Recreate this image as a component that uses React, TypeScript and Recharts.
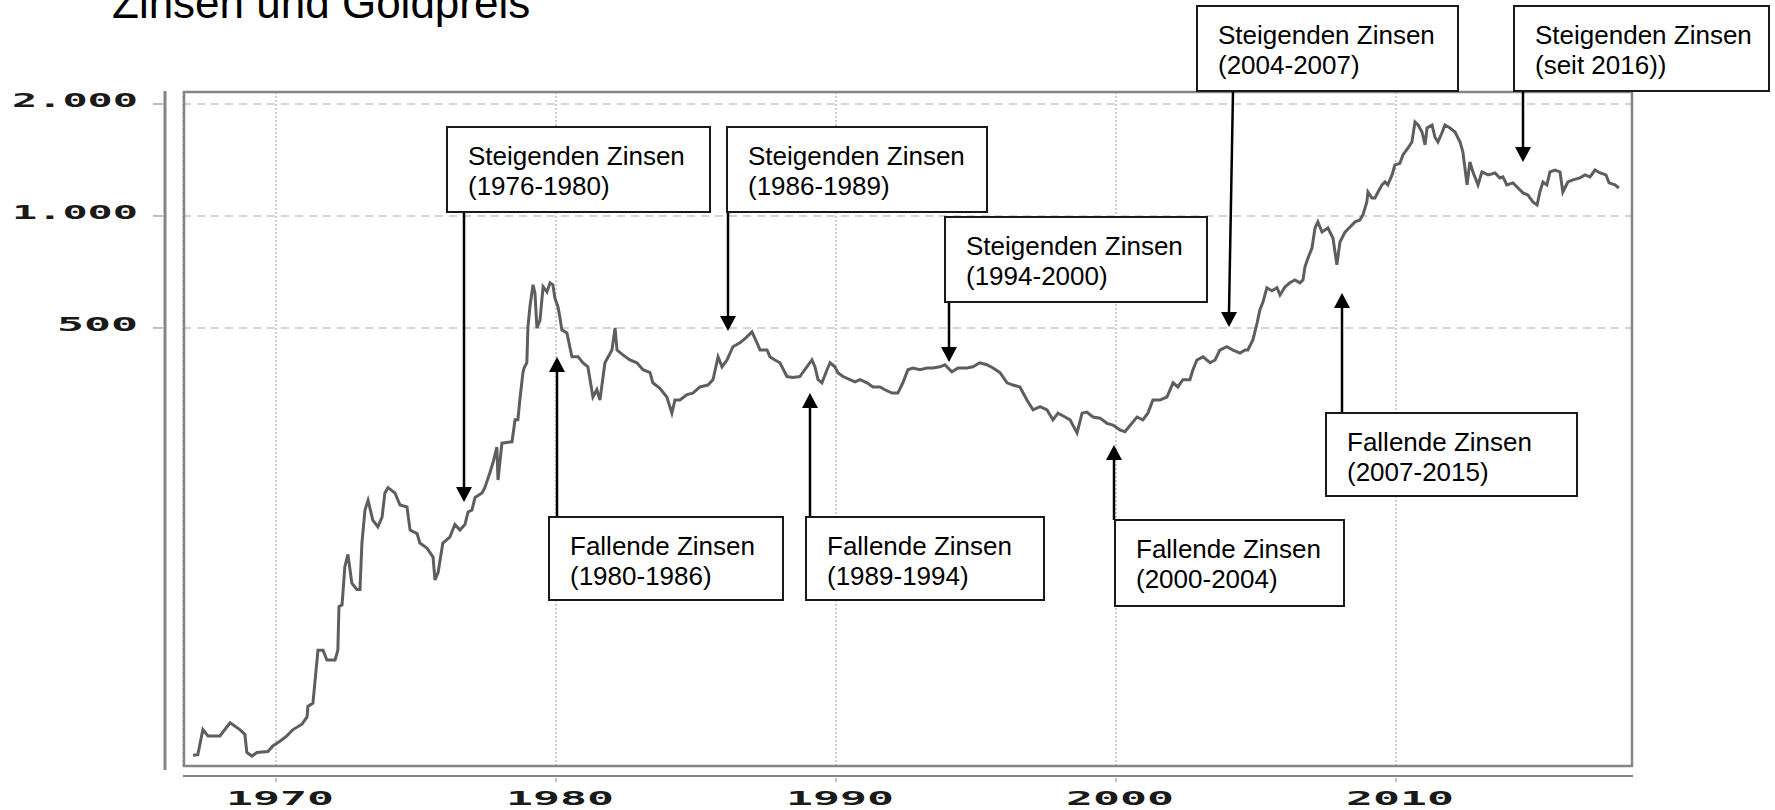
import { LineChart, Line, XAxis, YAxis, CartesianGrid } from 'recharts'

// Goldpreis (USD/oz), log. Skala
const years = [
  1967.04, 1967.21, 1967.39, 1967.57, 1968.0, 1968.36, 1968.71, 1968.89, 1968.96, 1969.14,
  1969.32, 1969.71, 1969.89, 1970.14, 1970.39, 1970.61, 1970.93, 1971.11, 1971.14, 1971.32,
  1971.39, 1971.5, 1971.68, 1971.82, 1972.11, 1972.21, 1972.25, 1972.36, 1972.46, 1972.57,
  1972.71, 1972.89, 1973.0, 1973.07, 1973.18, 1973.29, 1973.46, 1973.64, 1973.79, 1973.89,
  1974.0, 1974.25, 1974.43, 1974.68, 1974.79, 1975.04, 1975.14, 1975.39, 1975.61, 1975.68,
  1975.79, 1975.96, 1976.21, 1976.39, 1976.57, 1976.75, 1976.86, 1977.0, 1977.11, 1977.36,
  1977.46, 1977.64, 1977.75, 1977.89, 1977.93, 1978.07, 1978.43, 1978.54, 1978.64, 1978.71,
  1978.82, 1978.86, 1978.96, 1979.0, 1979.07, 1979.18, 1979.25, 1979.32, 1979.43, 1979.54,
  1979.68, 1979.79, 1979.89, 1979.96, 1980.07, 1980.14, 1980.21, 1980.39, 1980.57, 1980.79,
  1980.96, 1981.14, 1981.32, 1981.46, 1981.57, 1981.75, 1982.0, 1982.11, 1982.18, 1982.39,
  1982.64, 1982.89, 1983.11, 1983.36, 1983.46, 1983.71, 1983.96, 1984.14, 1984.25, 1984.43,
  1984.68, 1984.89, 1985.14, 1985.43, 1985.61, 1985.79, 1985.93, 1986.11, 1986.32, 1986.57,
  1986.82, 1987.0, 1987.18, 1987.29, 1987.54, 1987.64, 1987.82, 1988.0, 1988.25, 1988.46,
  1988.71, 1988.89, 1989.14, 1989.25, 1989.36, 1989.5, 1989.68, 1989.79, 1989.96, 1990.07,
  1990.25, 1990.5, 1990.68, 1990.86, 1991.11, 1991.32, 1991.57, 1991.75, 1992.0, 1992.21,
  1992.39, 1992.57, 1992.75, 1993.0, 1993.25, 1993.46, 1993.71, 1993.89, 1994.14, 1994.36,
  1994.68, 1994.89, 1995.14, 1995.39, 1995.61, 1995.86, 1996.11, 1996.32, 1996.57, 1996.82,
  1997.04, 1997.29, 1997.54, 1997.75, 1997.93, 1998.18, 1998.36, 1998.61, 1998.79, 1998.96,
  1999.18, 1999.43, 1999.68, 1999.89, 2000.14, 2000.32, 2000.57, 2000.75, 2000.96, 2001.14,
  2001.32, 2001.57, 2001.82, 2002.04, 2002.21, 2002.39, 2002.64, 2002.75, 2002.89, 2003.11,
  2003.36, 2003.54, 2003.71, 2003.96, 2004.18, 2004.43, 2004.61, 2004.71, 2004.89, 2005.04,
  2005.14, 2005.25, 2005.39, 2005.57, 2005.75, 2005.86, 2006.04, 2006.21, 2006.39, 2006.57,
  2006.68, 2006.75, 2006.86, 2007.0, 2007.11, 2007.21, 2007.36, 2007.57, 2007.75, 2007.89,
  2008.0, 2008.18, 2008.36, 2008.54, 2008.71, 2008.82, 2008.96, 2009.0, 2009.14, 2009.25,
  2009.36, 2009.5, 2009.61, 2009.71, 2009.86, 2009.96, 2010.14, 2010.25, 2010.43, 2010.57,
  2010.68, 2010.79, 2010.93, 2011.04, 2011.11, 2011.29, 2011.39, 2011.5, 2011.64, 2011.75,
  2011.93, 2012.11, 2012.29, 2012.39, 2012.54, 2012.64, 2012.75, 2012.93, 2013.07, 2013.29,
  2013.54, 2013.71, 2013.82, 2013.96, 2014.18, 2014.36, 2014.54, 2014.71, 2014.89, 2015.04,
  2015.14, 2015.25, 2015.39, 2015.5, 2015.68, 2015.86, 2015.96, 2016.14, 2016.32, 2016.57,
  2016.75, 2016.93, 2017.11, 2017.29, 2017.5, 2017.61, 2017.82, 2017.96,
]

const prices = [
  35.5, 35.6, 41.6, 40, 40, 43.4, 41.6, 40.4, 36.1, 35.3,
  36.1, 36.3, 37.6, 38.7, 40, 41.6, 43, 45, 48, 49,
  55.6, 68, 68, 64, 64, 68, 89, 90, 114, 123,
  103, 99, 99, 132, 162, 172, 152, 146, 155, 180,
  186, 180, 167, 165, 143, 140, 132, 128, 121, 105,
  110, 132, 137, 148, 143, 148, 160, 162, 175, 180,
  186, 204, 217, 239, 195, 245, 247, 283, 283, 320,
  379, 390, 403, 503, 570, 653, 621, 500, 525, 645,
  625, 661, 653, 602, 570, 535, 494, 485, 418, 418,
  403, 393, 326, 341, 320, 403, 436, 500, 436, 423,
  410, 403, 386, 379, 356, 344, 326, 295, 320, 320,
  331, 334, 347, 351, 363, 418, 393, 410, 445, 456,
  473, 488, 456, 436, 436, 418, 410, 403, 370, 368,
  370, 386, 410, 393, 363, 356, 386, 403, 393, 379,
  370, 363, 358, 363, 356, 347, 347, 341, 334, 334,
  356, 386, 390, 386, 390, 390, 393, 398, 381, 390,
  390, 393, 403, 398, 390, 379, 356, 351, 347, 320,
  301, 307, 301, 283, 295, 288, 283, 261, 295, 297,
  288, 286, 277, 274, 266, 263, 277, 288, 283, 295,
  320, 320, 326, 356, 347, 363, 363, 386, 410, 418,
  403, 410, 436, 445, 436, 428, 436, 436, 464, 515,
  559, 587, 641, 629, 641, 613, 645, 661, 673, 661,
  673, 730, 771, 820, 928, 964, 905, 928, 872, 739,
  851, 905, 934, 964, 975, 1007, 1091, 1160, 1118, 1118,
  1160, 1212, 1234, 1212, 1289, 1371, 1385, 1459, 1523, 1581,
  1789, 1756, 1682, 1552, 1724, 1756, 1631, 1581, 1671, 1756,
  1724, 1682, 1581, 1486, 1212, 1397, 1313, 1212, 1313, 1289,
  1305, 1265, 1273, 1212, 1227, 1189, 1153, 1139, 1091, 1070,
  1160, 1234, 1212, 1313, 1329, 1313, 1160, 1234, 1250, 1265,
  1289, 1273, 1329, 1305, 1289, 1227, 1212, 1189,
]

const xTicks = [1970, 1980, 1990, 2000, 2010]
const yTicks = [500, 1000, 2000]
const title = 'Zinsen und Goldpreis'
const calloutTexts = [
  ['Steigenden Zinsen', '(1976-1980)'],
  ['Steigenden Zinsen', '(1986-1989)'],
  ['Steigenden Zinsen', '(1994-2000)'],
  ['Steigenden Zinsen', '(2004-2007)'],
  ['Steigenden Zinsen', '(seit 2016))'],
  ['Fallende Zinsen', '(1980-1986)'],
  ['Fallende Zinsen', '(1989-1994)'],
  ['Fallende Zinsen', '(2000-2004)'],
  ['Fallende Zinsen', '(2007-2015)'],
]

const data = years.map((year, i) => ({ year, price: prices[i] }))

// layout
const W = 1775
const H = 810
const PLOT = { left: 183, top: 92, right: 1632, bottom: 766 }

// box x/y/w/h, arrow x at box (ax) and at tip (tx), arrow from ay1 to tip ay2
const callouts = [
  { x: 447, y: 127, w: 263, h: 85, ax: 464, ay1: 212, ay2: 502 },
  { x: 727, y: 127, w: 260, h: 85, ax: 728, ay1: 212, ay2: 331 },
  { x: 945, y: 217, w: 262, h: 85, ax: 949, ay1: 302, ay2: 362 },
  { x: 1197, y: 6, w: 261, h: 85, ax: 1233, tx: 1229, ay1: 91, ay2: 327 },
  { x: 1514, y: 6, w: 255, h: 85, ax: 1523, ay1: 91, ay2: 162 },
  { x: 549, y: 517, w: 234, h: 83, ax: 557, ay1: 517, ay2: 357 },
  { x: 806, y: 517, w: 238, h: 83, ax: 810, ay1: 517, ay2: 393 },
  { x: 1115, y: 520, w: 229, h: 86, ax: 1114, ay1: 520, ay2: 445 },
  { x: 1326, y: 413, w: 251, h: 83, ax: 1342, ay1: 413, ay2: 293 },
]

const tickFont = {
  fontFamily: '"DejaVu Sans Mono", monospace',
  fontWeight: 700,
  fontSize: 19,
  fill: '#1a1a1a',
}

const fmtDe = (v: number) => String(v).replace(/\B(?=(\d{3})+(?!\d))/g, '.')

// bitmap-like wide glyphs: stretch text to a fixed width
const labelWidth = (s: string) => s.replace(/\./g, '').length * 27 + (s.split('.').length - 1) * 18

const YTick = ({ y, payload }: any) => {
  const label = fmtDe(payload.value)
  const w = labelWidth(label)
  return (
    <g>
      <line x1={153} x2={163} y1={y} y2={y} stroke="#bdbdbd" strokeWidth={2} />
      <text x={138 - w} y={y + 3} textLength={w} lengthAdjust="spacingAndGlyphs" style={tickFont}>
        {label}
      </text>
    </g>
  )
}

const XTick = ({ x, payload }: any) => {
  const label = String(payload.value)
  const w = labelWidth(label)
  return (
    <g>
      <line x1={x} x2={x} y1={778} y2={782} stroke="#c4c4c4" strokeWidth={2} />
      <text x={x + 4 - w / 2} y={805} textLength={w} lengthAdjust="spacingAndGlyphs" style={tickFont}>
        {label}
      </text>
    </g>
  )
}

function Callout({ c, lines }: { c: (typeof callouts)[number]; lines: string[] }) {
  const down = c.ay2 > c.ay1
  const tx = c.tx ?? c.ax
  const head = 15
  const baseY = down ? c.ay2 - head : c.ay2 + head
  return (
    <g>
      <line x1={c.ax} y1={c.ay1} x2={tx} y2={baseY} stroke="#000" strokeWidth={2.5} />
      <polygon points={`${tx - 8},${baseY} ${tx + 8},${baseY} ${tx},${c.ay2}`} fill="#000" />
      <rect x={c.x} y={c.y} width={c.w} height={c.h} fill="#fff" stroke="#1a1a1a" strokeWidth={2} />
      {lines.map((t, i) => (
        <text
          key={i}
          x={c.x + 21}
          y={c.y + 38 + i * 30}
          fontFamily='"Liberation Sans", Arial, sans-serif'
          fontSize={26}
          fill="#000"
        >
          {t}
        </text>
      ))}
    </g>
  )
}

export default function App() {
  return (
    <div style={{ position: 'absolute', left: 0, top: 0, width: W, height: H, background: '#fff' }}>
      <LineChart
        width={W}
        height={H}
        data={data}
        margin={{ top: PLOT.top, right: W - PLOT.right, left: 8, bottom: 0 }}
      >
        <CartesianGrid horizontal vertical={false} stroke="#c6c6c6" strokeDasharray="8 6" strokeWidth={1.5} />
        <CartesianGrid horizontal={false} vertical stroke="#cdcdcd" strokeDasharray="2 2" strokeWidth={2} />
        <XAxis
          dataKey="year"
          type="number"
          domain={[1966.68, 2018.43]}
          ticks={xTicks}
          interval={0}
          allowDataOverflow
          axisLine={false}
          tickLine={false}
          height={H - PLOT.bottom}
          tick={<XTick />}
        />
        <YAxis
          type="number"
          scale="log"
          domain={[33.2, 2154]}
          ticks={yTicks}
          interval={0}
          allowDataOverflow
          axisLine={false}
          tickLine={false}
          width={PLOT.left - 8}
          tick={<YTick />}
        />
        <Line
          type="linear"
          dataKey="price"
          stroke="#5e5e5e"
          strokeWidth={3}
          dot={false}
          isAnimationActive={false}
        />
      </LineChart>
      <svg
        width={W}
        height={H}
        style={{ position: 'absolute', left: 0, top: 0, pointerEvents: 'none' }}
      >
        {/* title sits partly above the page edge, as in the source image */}
        <text x={112} y={18} fontFamily='"Liberation Sans", Arial, sans-serif' fontSize={44} fill="#000">
          {title}
        </text>
        {/* outer y axis line and x axis line */}
        <line x1={165} x2={165} y1={91} y2={770} stroke="#858585" strokeWidth={3} />
        <line x1={PLOT.left} x2={PLOT.right + 1} y1={776} y2={776} stroke="#858585" strokeWidth={2} />
        {/* plot frame */}
        <rect
          x={PLOT.left + 1}
          y={PLOT.top}
          width={PLOT.right - PLOT.left - 1}
          height={PLOT.bottom - PLOT.top}
          fill="none"
          stroke="#858585"
          strokeWidth={2.5}
        />
        {callouts.map((c, i) => (
          <Callout key={i} c={c} lines={calloutTexts[i]} />
        ))}
      </svg>
    </div>
  )
}
